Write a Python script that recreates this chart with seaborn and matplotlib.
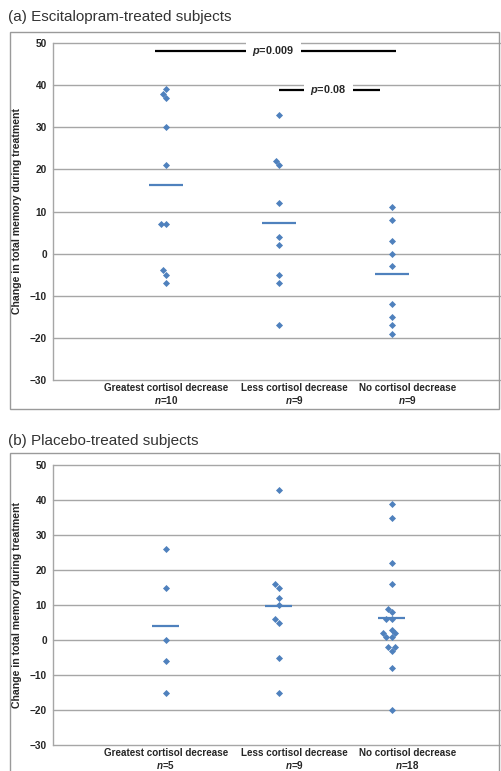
import matplotlib
matplotlib.use('Agg')

import seaborn as sns
import numpy
import pandas
import matplotlib.pyplot as plt
from matplotlib.patches import Rectangle

GROUPS = ['Greatest cortisol decrease', 'Less cortisol decrease', 'No cortisol decrease']

# (a) escitalopram
ESC_GREATEST = [39, 38, 37, 30, 21, 7, 7, -4, -5, -7]
ESC_LESS = [33, 22, 21, 12, 4, 2, -5, -7, -17]
ESC_NONE = [11, 8, 3, 0, -3, -12, -15, -17, -19]

# (b) placebo
PLA_GREATEST = [26, 15, 0, -6, -15]
PLA_LESS = [43, 16, 15, 12, 10, 6, 5, -5, -15]
PLA_NONE = [39, 35, 22, 16, 9, 8, 6, 6, 3, 2, 2, 1, 1, -2, -2, -3, -8, -20]

Y_TICKS = [-30, -20, -10, 0, 10, 20, 30, 40, 50]

BLUE = '#4F81BD'
GRID = '#A6A6A6'
TEXT = '#262626'

# category labels sit a bit right of the dot columns, as in the original Excel chart
LABEL_SHIFT = [0.0, 0.14, 0.14]


def to_frame(lists):
    rows = []
    for g, vals in zip(GROUPS, lists):
        for v in vals:
            rows.append({'group': g, 'change': v})
    return pandas.DataFrame(rows)


def draw_panel(ax, lists, half_width):
    data = to_frame(lists)
    sns.swarmplot(data=data, x='group', y='change', order=GROUPS, color=BLUE,
                  marker='D', size=3.6, linewidth=0, ax=ax)

    means = data.groupby('group')['change'].mean().reindex(GROUPS).values
    pos = numpy.arange(len(GROUPS))
    ax.hlines(means, pos - half_width, pos + half_width, color=BLUE, lw=1.6, zorder=3)

    ax.set_ylim(-30, 50)
    ax.set_xlim(-1.0, 2.96)
    ax.set_yticks(Y_TICKS)
    for t in Y_TICKS:
        ax.axhline(t, color=GRID, lw=1.0, zorder=0, clip_on=False)

    labels = ['{}\n$\\it{{n}}$={}'.format(g, len(v)) for g, v in zip(GROUPS, lists)]
    ax.set_xticks(pos + numpy.array(LABEL_SHIFT))
    ax.set_xticklabels(labels, fontsize=7.1, fontweight='bold', color=TEXT,
                       linespacing=1.1)
    ax.tick_params(axis='x', length=0, pad=2.5)
    ax.tick_params(axis='y', length=3, width=1, color=GRID, pad=1.5, labelsize=7.3, labelcolor=TEXT)
    for lab in ax.get_yticklabels():
        lab.set_fontweight('bold')

    ax.set_xlabel('')
    ax.set_ylabel('Change in total memory during treatment', fontsize=7.6,
                  fontweight='bold', color=TEXT)
    ax.yaxis.set_label_coords(-0.069, 0.5)

    for side in ['top', 'right', 'bottom']:
        ax.spines[side].set_visible(False)
    ax.spines['left'].set_color(GRID)
    ax.spines['left'].set_linewidth(1.0)


def p_bracket(ax, x0, x1, y, xt, label):
    ax.plot([x0, x1], [y, y], color='black', lw=1.6, solid_capstyle='butt', zorder=2)
    ax.text(xt, y, label, ha='center', va='center', fontsize=7.8, fontweight='bold',
            color=TEXT, zorder=4,
            bbox=dict(boxstyle='square,pad=0.6', fc='white', ec='none'))


sns.set_theme(style='white')
plt.rcParams['font.family'] = ['Liberation Sans', 'DejaVu Sans']
plt.rcParams['mathtext.fontset'] = 'custom'
plt.rcParams['mathtext.it'] = 'Liberation Sans:italic:bold'
plt.rcParams['mathtext.rm'] = 'Liberation Sans:bold'

W, H = 501, 771
fig = plt.figure(figsize=(W / 100, H / 100), dpi=100)

# panel frames
fig.patches.append(Rectangle((10 / W, 1 - 409 / H), 489 / W, 377 / H, transform=fig.transFigure,
                             fill=False, ec='#9A9A9A', lw=1.0))
fig.patches.append(Rectangle((10 / W, -0.01), 489 / W, (1 - 453 / H) + 0.01, transform=fig.transFigure,
                             fill=False, ec='#9A9A9A', lw=1.0))

ax_a = fig.add_axes([53 / W, 1 - 380 / H, 447 / W, 337 / H])
ax_b = fig.add_axes([53 / W, 1 - 745 / H, 447 / W, 280 / H])

draw_panel(ax_a, [ESC_GREATEST, ESC_LESS, ESC_NONE], 0.15)
draw_panel(ax_b, [PLA_GREATEST, PLA_LESS, PLA_NONE], 0.12)

p_bracket(ax_a, -0.1, 2.04, 48.1, 0.95, '$\\it{p}$=0.009')
p_bracket(ax_a, 1.0, 1.9, 38.8, 1.44, '$\\it{p}$=0.08')

fig.text(8 / W, 1 - 17 / H, '(a) Escitalopram-treated subjects', fontsize=11,
         color='#333333', va='center', ha='left')
fig.text(8 / W, 1 - 441 / H, '(b) Placebo-treated subjects', fontsize=11,
         color='#333333', va='center', ha='left')

fig.savefig('out.png', dpi=100)
plt.close('all')
